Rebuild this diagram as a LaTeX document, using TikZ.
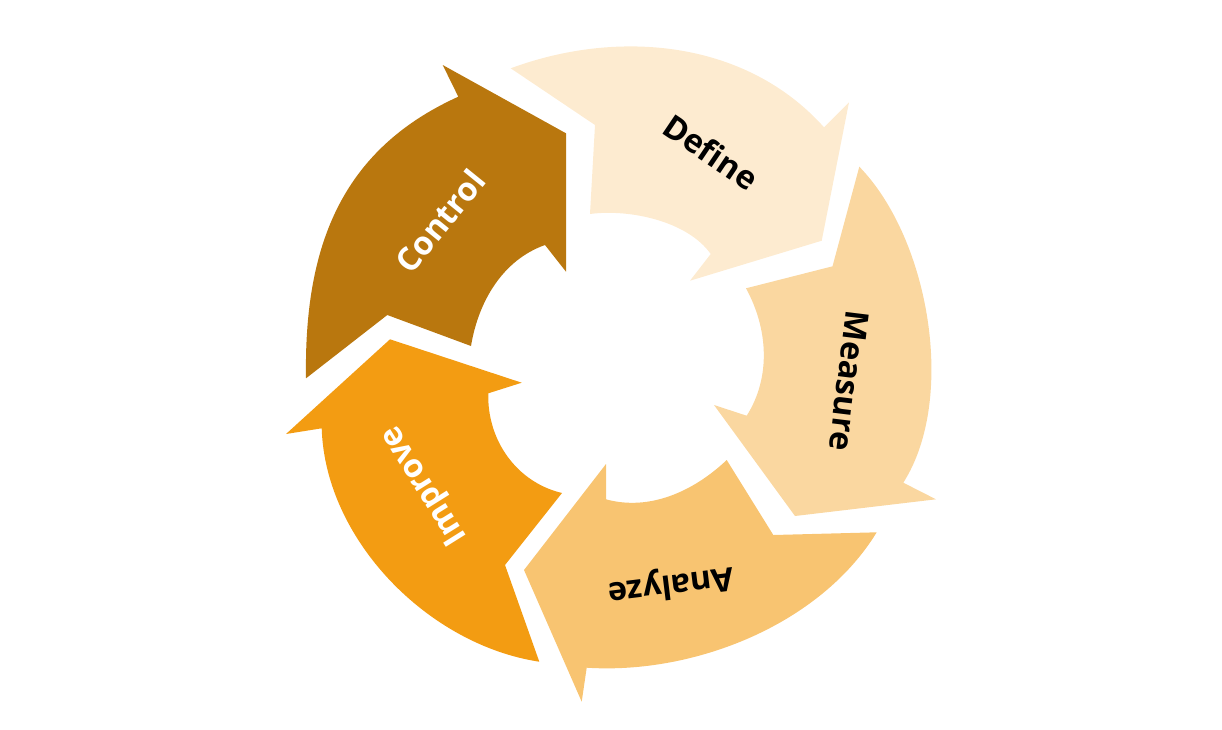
\documentclass[tikz,border=0pt]{standalone}
\usepackage{fontspec}
\setmainfont{Open Sans}
\definecolor{definecol}{HTML}{FDEBD0}
\definecolor{measurecol}{HTML}{FAD7A0}
\definecolor{analyzecol}{HTML}{F8C471}
\definecolor{improvecol}{HTML}{F39C12}
\definecolor{controlcol}{HTML}{B9770E}
\tikzset{
    phase/.style={
        draw=none},
    phase text/.style={
        font=\bfseries\fontsize{32.5}{38}\selectfont,
        inner sep=0pt}}

\begin{document}
\begin{tikzpicture}[x=1pt,y=-1pt]
        \useasboundingbox (0,0) rectangle (1222,729);

        % the five arrows, clockwise from the top
        \fill[phase,definecol] (510.7,68.3)
            .. controls (619.5,28.1) and (746.7,40.8) .. (824,127.3)
            -- (849,102.3) -- (821.7,240.7) -- (690,280.7) -- (710.7,254)
            .. controls (687.7,221.2) and (629.6,208.7) .. (590,214)
            -- (595,125) -- cycle;
        \fill[phase,measurecol] (859.3,166.7) -- (832.5,266.3) -- (746,288.3)
            .. controls (768,328.6) and (771.2,376.9) .. (746.7,415.7)
            -- (714,405) -- (795,516) -- (936,499.3) -- (903.3,482.7)
            .. controls (957,398.4) and (929.1,238.3) .. (859.3,166.7)
            -- cycle;
        \fill[phase,analyzecol] (876.7,532.3) -- (773.3,535) -- (726.7,460)
            .. controls (693.8,491.2) and (649.7,511.3) .. (606,499.3)
            -- (606,464) -- (524,570) -- (581.7,701.7) -- (586.7,667.7)
            .. controls (694.5,674.7) and (820.4,624.4) .. (876.7,532.3)
            -- cycle;
        \fill[phase,improvecol] (539.3,661.7) -- (505,565) -- (562,493)
            .. controls (516.6,482.3) and (486.9,440) .. (488.3,393.3)
            -- (521.7,382.7) -- (390,339.3) -- (286,434) -- (321.7,428.3)
            .. controls (325.2,540.2) and (428.5,644.9) .. (539.3,661.7)
            -- cycle;
        \fill[phase,controlcol] (306,378.3) -- (387.3,315) -- (471,346)
            .. controls (478.3,301.6) and (502.6,260) .. (545,245)
            -- (566,271.7) -- (566,133.3) -- (442.7,65) -- (458.3,96.7)
            .. controls (339.9,150.3) and (304,248.3) .. (306,378.3)
            -- cycle;

        % labels
        \node[phase text,rotate=-34] (define) at (711,152) {Define};
        \node[phase text,rotate=-97] (measure) at (849,381) {Measure};
        \node[phase text,rotate=-173] (analyze) at (671,584) {Analyze};
        \node[phase text,rotate=122,white] (improve) at (425,485) {Improve};
        \node[phase text,rotate=51,white] (control) at (440,221) {Control};
    \end{tikzpicture}
\end{document}
